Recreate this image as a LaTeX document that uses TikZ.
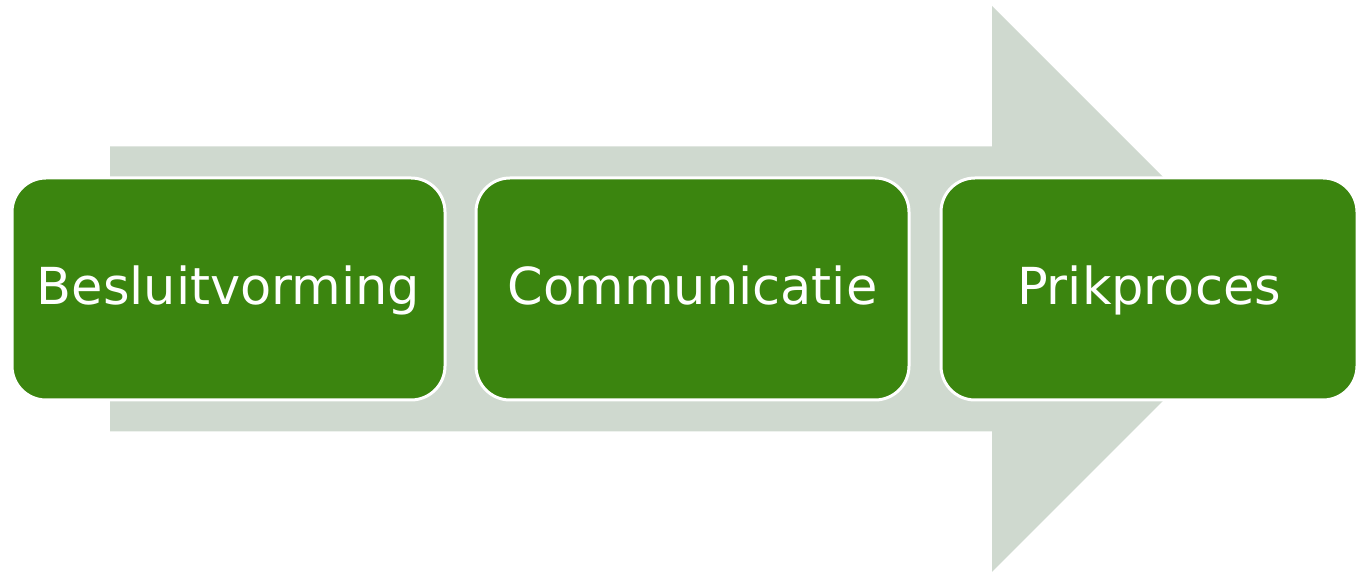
\documentclass[tikz,border=0pt]{standalone}
\usepackage{fontspec}
\setmainfont{DejaVu Sans}
\usetikzlibrary{positioning}
\definecolor{phasegreen}{HTML}{3B850F}
\definecolor{arrowgrey}{HTML}{CFD9CF}
\tikzset{phase/.style={rounded corners=17pt, fill=phasegreen, draw=white, line width=1.5pt,
    minimum width=216.5pt, minimum height=111pt, text=white, text height=16pt, text depth=0pt,
    font=\fontsize{25.5}{30}\selectfont}}
\begin{document}
\begin{tikzpicture}[x=0.5pt,y=0.5pt]
\def\shaftleft{110}
\def\headx{992}
\def\midy{283}
\def\shafthalf{142.5}
\def\headhalf{283}

\useasboundingbox (0,0) rectangle (1357,572);

% big arrow behind the phases
\fill[arrowgrey] (\shaftleft,\midy-\shafthalf) -- (\headx,\midy-\shafthalf) -- (\headx,\midy-\headhalf)
  -- (\headx+\headhalf,\midy) -- (\headx,\midy+\headhalf) -- (\headx,\midy+\shafthalf)
  -- (\shaftleft,\midy+\shafthalf) -- cycle;

\node[phase] (besluit) at (228.5,\midy) {Besluitvorming};
\node[phase, right=14pt of besluit] (communicatie) {Communicatie};
\node[phase, right=14.5pt of communicatie, minimum width=208pt] (prik) {Prikproces};

\end{tikzpicture}
\end{document}
